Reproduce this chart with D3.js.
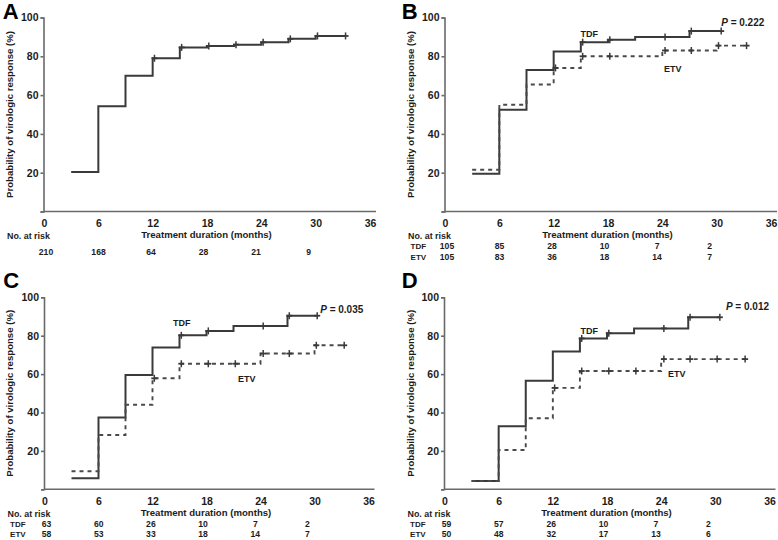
<!DOCTYPE html>
<html><head><meta charset="utf-8">
<script src="https://cdn.jsdelivr.net/npm/d3@7"></script>
<style>
body{margin:0;background:#fff}
svg{display:block;font-family:"Liberation Sans",Arial,sans-serif;font-weight:bold}
</style>
</head><body>
<svg id="c" width="778" height="540"></svg>
<script>
// ---- tick labels ----
const tickMonths = [0, 6, 12, 18, 24, 30, 36];
const yTicks = [0, 20, 40, 60, 80, 100];
const yTickLabels = ["", "20", "40", "60", "80", "100"];
const riskMonths = [0, 6, 12, 18, 24, 30];
const groupNames = ["TDF", "ETV"];

// ---- Panel A (all patients) ----
const aTimes  = [3, 6, 9, 12, 15, 18, 21, 24, 27, 30, 33.3];
const aValues = [20.3, 54.3, 70, 79, 84.6, 85.3, 86, 87.2, 89, 90.5, 90.5];
const aCensor = [12.2, 15.2, 18.2, 21.2, 24.2, 27.2, 30.2, 33.3];
const aRisk   = [210, 168, 64, 28, 21, 9];

// ---- Panel B ----
const bTdfTimes  = [3, 6, 9, 12, 15, 18, 21, 27, 30.5];
const bTdfValues = [19.5, 52.5, 73, 82.5, 87.3, 88.5, 90, 93, 93];
const bTdfCensor = [15.2, 18.2, 24.3, 27.2, 30.5];
const bEtvTimes  = [3, 6, 9, 12, 15, 24, 30, 33.3];
const bEtvValues = [21.5, 55, 65.5, 74, 80, 83, 85.5, 85.5];
const bEtvCensor = [12.2, 15.2, 18.2, 24.3, 27.2, 30.2, 33.3];
const bTdfRisk = [105, 85, 28, 10, 7, 2];
const bEtvRisk = [105, 83, 36, 18, 14, 7];
const bP = "0.222";

// ---- Panel C ----
const cTdfTimes  = [3, 6, 9, 12, 15, 18, 21, 27, 30.3];
const cTdfValues = [5.7, 37.4, 59.5, 73.8, 80.2, 82.5, 85, 90.4, 90.4];
const cTdfCensor = [15.2, 18.2, 24.3, 27.2, 30.3];
const cEtvTimes  = [3, 6, 9, 12, 15, 24, 30, 33.3];
const cEtvValues = [9.4, 28.3, 44, 57.8, 65.4, 70.7, 75, 75];
const cEtvCensor = [12.2, 15.2, 18.2, 21.2, 24.3, 27.2, 30.2, 33.3];
const cTdfRisk = [63, 60, 26, 10, 7, 2];
const cEtvRisk = [58, 53, 33, 18, 14, 7];
const cP = "0.035";

// ---- Panel D ----
const dTdfTimes  = [3, 6, 9, 12, 15, 18, 21, 27, 30.5];
const dTdfValues = [4.3, 32.8, 56.6, 71.8, 78.6, 81.3, 83.8, 89.6, 89.6];
const dTdfCensor = [15.2, 18.2, 24.3, 27.2, 30.5];
const dEtvTimes  = [3, 6, 9, 12, 15, 24, 33.3];
const dEtvValues = [4.3, 20.5, 37, 52.8, 61.6, 67.8, 67.8];
const dEtvCensor = [12.2, 15.2, 18.2, 21.2, 24.3, 27.2, 30.2, 33.3];
const dTdfRisk = [59, 57, 26, 10, 7, 2];
const dEtvRisk = [50, 48, 32, 17, 13, 6];
const dP = "0.012";

// ---- texts ----
const yTitle = "Probability of virologic response (%)";
const xTitle = "Treatment duration (months)";
const riskTitle = "No. at risk";

const svg = d3.select("#c");
const TEXT = "#1c1c1c", LINE = "#3a3a3a", AXIS = "#6a6a6a";

const panels = [
  {letter:"A", xr:[44,370], yr:[211.5,17.5], letterY:19.3, letterX:2.7, titleX:10,
   curves:[{t:aTimes, v:aValues, c:aCensor, dash:false}],
   risk:[{label:"", vals:aRisk}], p:null},
  {letter:"B", xr:[445,771], yr:[211.5,17.5], letterY:18.5, letterX:401.7, titleX:410.7,
   curves:[{t:bTdfTimes, v:bTdfValues, c:bTdfCensor, dash:false},
           {t:bEtvTimes, v:bEtvValues, c:bEtvCensor, dash:true}],
   risk:[{label:groupNames[0], vals:bTdfRisk},{label:groupNames[1], vals:bEtvRisk}],
   p:bP, pPos:[764.3,26.3], tdfPos:[589.3,36.5], etvPos:[672.7,71.5]},
  {letter:"C", xr:[44.5,368.5], yr:[489.3,297.3], letterY:288.3, letterX:3.3, titleX:10,
   curves:[{t:cTdfTimes, v:cTdfValues, c:cTdfCensor, dash:false},
           {t:cEtvTimes, v:cEtvValues, c:cEtvCensor, dash:true}],
   risk:[{label:groupNames[0], vals:cTdfRisk},{label:groupNames[1], vals:cEtvRisk}],
   p:cP, pPos:[363.3,313], tdfPos:[181.7,326], etvPos:[246.7,382.3]},
  {letter:"D", xr:[444.5,769.5], yr:[489.3,297.3], letterY:288.3, letterX:401.7, titleX:410.7,
   curves:[{t:dTdfTimes, v:dTdfValues, c:dTdfCensor, dash:false},
           {t:dEtvTimes, v:dEtvValues, c:dEtvCensor, dash:true}],
   risk:[{label:groupNames[0], vals:dTdfRisk},{label:groupNames[1], vals:dEtvRisk}],
   p:dP, pPos:[769,309.6], tdfPos:[589.3,334], etvPos:[676.7,377.3]}
];

panels.forEach(P => {
  const g = svg.append("g");
  const x = d3.scaleLinear().domain([0,36]).range(P.xr);
  const y = d3.scaleLinear().domain([0,100]).range(P.yr);
  const y0 = P.yr[0], y1 = P.yr[1];

  // y axis
  const ya = g.append("g").attr("transform",`translate(${P.xr[0]-0.5},0)`)
    .call(d3.axisLeft(y).tickValues(yTicks).tickFormat((d,i)=>yTickLabels[i]).tickSize(3).tickPadding(2));
  ya.select(".domain").attr("stroke",AXIS).attr("stroke-width",1.6);
  ya.selectAll(".tick line").attr("stroke",AXIS).attr("stroke-width",1.6);
  ya.selectAll(".tick text").attr("fill",TEXT).style("font-size","10.5px").style("font-weight","bold")
    .style("font-family","'Liberation Sans',Arial,sans-serif");

  // x axis
  const xa = g.append("g").attr("transform",`translate(0,${y0})`)
    .call(d3.axisBottom(x).tickValues(tickMonths).tickSize(0).tickPadding(8));
  xa.select(".domain").remove();
  xa.selectAll(".tick text").attr("fill",TEXT).style("font-size","10.5px").style("font-weight","bold")
    .style("font-family","'Liberation Sans',Arial,sans-serif");
  g.append("line").attr("x1",P.xr[0]-0.5).attr("x2",P.xr[1]+6).attr("y1",y0).attr("y2",y0)
    .attr("stroke",AXIS).attr("stroke-width",1.6);

  // curves
  const line = d3.line().x(d=>x(d[0])).y(d=>y(d[1])).curve(d3.curveStepAfter);
  P.curves.forEach(cv => {
    const pts = cv.t.map((t,i)=>[t, cv.v[i]]);
    g.append("path").datum(pts).attr("d",line).attr("fill","none")
      .attr("stroke", cv.dash ? "#4a4a4a" : LINE)
      .attr("stroke-width", cv.dash ? 1.9 : 2)
      .attr("stroke-dasharray", cv.dash ? "4,4" : null);
    const valAt = t => { let v = cv.v[0]; cv.t.forEach((tt,i)=>{ if (tt <= t + 1e-9) v = cv.v[i]; }); return v; };
    cv.c.forEach(t => {
      const cx = x(t), cy = y(valAt(t));
      g.append("line").attr("x1",cx).attr("x2",cx).attr("y1",cy-3.5).attr("y2",cy+3.5)
        .attr("stroke",LINE).attr("stroke-width",1.5);
      g.append("line").attr("x1",cx-3).attr("x2",cx+3).attr("y1",cy).attr("y2",cy)
        .attr("stroke",LINE).attr("stroke-width",1.8);
    });
  });

  // panel letter
  g.append("text").attr("x",P.letterX).attr("y",P.letterY).text(P.letter)
    .attr("fill","#000").style("font-size","22px");

  // y title
  g.append("text").attr("transform",`translate(${P.titleX},${(y0+y1)/2}) rotate(-90)`)
    .attr("text-anchor","middle").attr("dy","0.35em").text(yTitle)
    .attr("fill",TEXT).style("font-size","9.6px");

  // x title
  g.append("text").attr("x",(P.xr[0]+P.xr[1])/2-0.5).attr("y",y0+26.5).attr("text-anchor","middle")
    .text(xTitle).attr("fill",TEXT).style("font-size","9.6px");

  // risk table
  const left = P.xr[0] - 37;
  g.append("text").attr("x",left).attr("y",y0+27.6).text(riskTitle)
    .attr("fill",TEXT).style("font-size","8.9px");
  const rx = d3.scaleLinear().domain([0,30]).range([x(0)+2, x(30)-7]);
  const rowY = P.risk.length === 1 ? [y0+43.5] : [y0+37.4, y0+48];
  P.risk.forEach((r,ri) => {
    if (r.label) g.append("text").attr("x",left+2.6).attr("y",rowY[ri]).text(r.label)
      .attr("fill",TEXT).style("font-size","8px");
    r.vals.forEach((v,i) => {
      g.append("text").attr("x",rx(riskMonths[i])).attr("y",rowY[ri]).attr("text-anchor","middle")
        .text(v).attr("fill",TEXT).style("font-size","8.6px");
    });
  });

  // p value and group labels
  if (P.p) {
    const pt = g.append("text").attr("x",P.pPos[0]).attr("y",P.pPos[1]).attr("text-anchor","end")
      .attr("fill",TEXT).style("font-size","10px");
    pt.append("tspan").style("font-style","italic").text("P");
    pt.append("tspan").text(" = " + P.p);
    g.append("text").attr("x",P.tdfPos[0]).attr("y",P.tdfPos[1]).attr("text-anchor","middle")
      .text(groupNames[0]).attr("fill",TEXT).style("font-size","9px");
    g.append("text").attr("x",P.etvPos[0]).attr("y",P.etvPos[1]).attr("text-anchor","middle")
      .text(groupNames[1]).attr("fill",TEXT).style("font-size","9px");
  }
});
</script>
</body></html>
